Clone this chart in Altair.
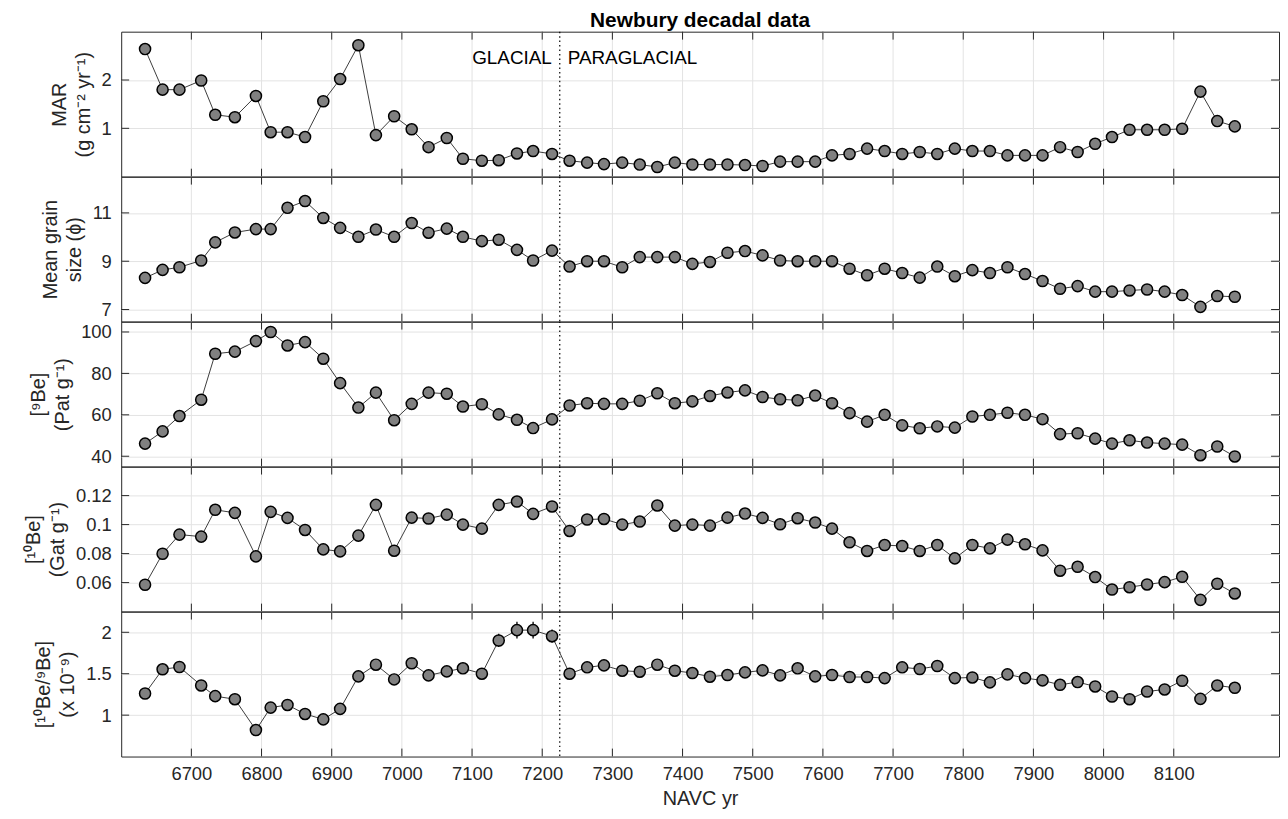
import altair as alt
import pandas as pd

# ---------------- data ----------------
years = [6634, 6659, 6683, 6714, 6734, 6762, 6792, 6813, 6837, 6862,
         6888, 6912, 6938, 6963, 6989, 7014, 7038, 7064, 7087, 7114,
         7138, 7164, 7187, 7214, 7239, 7264, 7288, 7314, 7339, 7364,
         7389, 7414, 7439, 7464, 7489, 7514, 7539, 7564, 7589, 7613,
         7638, 7663, 7688, 7713, 7738, 7763, 7788, 7813, 7838, 7863,
         7888, 7913, 7938, 7963, 7988, 8012, 8037, 8062, 8087, 8112,
         8138, 8162, 8187]

mar = [2.64, 1.80, 1.80, 1.99, 1.28, 1.23, 1.67, 0.92, 0.92, 0.82,
       1.56, 2.02, 2.72, 0.86, 1.25, 0.98, 0.61, 0.80, 0.37, 0.33,
       0.34, 0.48, 0.53, 0.47, 0.33, 0.29, 0.26, 0.29, 0.25, 0.20,
       0.29, 0.25, 0.25, 0.25, 0.24, 0.22, 0.31, 0.31, 0.31, 0.44,
       0.47, 0.58, 0.53, 0.47, 0.51, 0.47, 0.58, 0.53, 0.53, 0.44,
       0.44, 0.44, 0.61, 0.51, 0.68, 0.82, 0.97, 0.97, 0.97, 0.99,
       1.76, 1.15, 1.04]

grain = [8.31, 8.64, 8.75, 9.03, 9.78, 10.19, 10.33, 10.33, 11.21, 11.49,
         10.79, 10.38, 10.01, 10.31, 10.01, 10.58, 10.18, 10.35, 10.01, 9.83,
         9.89, 9.47, 9.03, 9.44, 8.78, 9.00, 9.00, 8.75, 9.17, 9.17,
         9.17, 8.89, 8.97, 9.35, 9.42, 9.24, 9.03, 9.00, 9.00, 9.00,
         8.69, 8.42, 8.69, 8.51, 8.32, 8.78, 8.38, 8.63, 8.51, 8.75,
         8.47, 8.18, 7.86, 7.97, 7.74, 7.74, 7.79, 7.83, 7.74, 7.60,
         7.11, 7.56, 7.53]

be9 = [46.1, 52.0, 59.4, 67.3, 89.5, 90.5, 95.6, 100.0, 93.5, 95.1,
       87.1, 75.3, 63.5, 70.7, 57.4, 65.3, 70.7, 70.2, 64.0, 65.1,
       60.2, 57.6, 53.6, 57.8, 64.5, 65.6, 65.3, 65.3, 66.8, 70.4,
       65.6, 66.5, 69.1, 70.8, 71.8, 68.6, 67.5, 67.0, 69.3, 65.6,
       60.8, 56.7, 60.0, 54.9, 53.5, 54.4, 53.8, 59.2, 60.0, 61.0,
       60.0, 57.9, 50.7, 51.1, 48.5, 46.1, 47.7, 46.6, 46.1, 45.6,
       40.5, 44.7, 39.9]

be10 = [0.0585, 0.0799, 0.0931, 0.0917, 0.1102, 0.1081, 0.0781, 0.1088, 0.1046, 0.0963,
        0.0829, 0.0815, 0.0924, 0.1136, 0.0820, 0.1048, 0.1042, 0.1069, 0.1000, 0.0972,
        0.1136, 0.1159, 0.1074, 0.1125, 0.0956, 0.1035, 0.1039, 0.1000, 0.1021, 0.1132,
        0.0993, 0.1000, 0.0993, 0.1048, 0.1076, 0.1046, 0.1002, 0.1044, 0.1014, 0.0972,
        0.0878, 0.0818, 0.0859, 0.0852, 0.0818, 0.0859, 0.0767, 0.0859, 0.0836, 0.0896,
        0.0864, 0.0822, 0.0682, 0.0709, 0.0638, 0.0552, 0.0568, 0.0587, 0.0603, 0.0640,
        0.0481, 0.0592, 0.0525]

ratio = [1.261, 1.553, 1.581, 1.358, 1.229, 1.192, 0.820, 1.091, 1.123, 1.014,
         0.949, 1.075, 1.468, 1.609, 1.431, 1.626, 1.480, 1.528, 1.565, 1.500,
         1.901, 2.026, 2.026, 1.953, 1.500, 1.577, 1.601, 1.536, 1.524, 1.609,
         1.536, 1.508, 1.464, 1.484, 1.516, 1.540, 1.480, 1.565, 1.468, 1.484,
         1.460, 1.460, 1.447, 1.577, 1.557, 1.593, 1.447, 1.455, 1.395, 1.492,
         1.447, 1.419, 1.366, 1.399, 1.346, 1.225, 1.192, 1.285, 1.310, 1.415,
         1.196, 1.358, 1.330]

ratio_err = [0.04, 0.04, 0.04, 0.04, 0.04, 0.04, 0.03, 0.04, 0.04, 0.04,
             0.04, 0.04, 0.04, 0.05, 0.04, 0.05, 0.04, 0.04, 0.05, 0.04,
             0.08, 0.10, 0.10, 0.08, 0.04, 0.04, 0.05, 0.04, 0.04, 0.05,
             0.04, 0.04, 0.04, 0.04, 0.04, 0.04, 0.04, 0.04, 0.04, 0.04,
             0.04, 0.04, 0.04, 0.04, 0.04, 0.05, 0.04, 0.04, 0.04, 0.04,
             0.04, 0.04, 0.04, 0.04, 0.04, 0.04, 0.04, 0.04, 0.04, 0.04,
             0.04, 0.04, 0.04]

x_ticks = [6700, 6800, 6900, 7000, 7100, 7200, 7300, 7400,
           7500, 7600, 7700, 7800, 7900, 8000, 8100]
x_domain = [6600, 8250]
boundary_year = 7225
period_labels = ["GLACIAL", "PARAGLACIAL"]

panels = [
    ("mar", ["MAR", "(g cm\u207b\u00b2 yr\u207b\u00b9)"], [0, 3], [1, 2]),
    ("grain", ["Mean grain", "size (\u03d5)"], [6.5, 12.5], [7, 9, 11]),
    ("be9", ["[\u2079Be]", "(Pat g\u207b\u00b9)"], [35, 105], [40, 60, 80, 100]),
    ("be10", ["[\u00b9\u2070Be]", "(Gat g\u207b\u00b9)"], [0.04, 0.14], [0.06, 0.08, 0.1, 0.12]),
    ("ratio", ["[\u00b9\u2070Be/\u2079Be]", "(x 10\u207b\u2079)"], [0.5, 2.25], [1, 1.5, 2]),
]

# ---------------- styling ----------------
FONT = "Liberation Sans"
AXC = "#262626"
GRID = "#e3e3e3"
W = 1166
H = 146
TL = 8

df = pd.DataFrame({
    "year": years, "mar": mar, "grain": grain, "be9": be9,
    "be10": be10, "ratio": ratio,
})
df["lo"] = [v - e for v, e in zip(ratio, ratio_err)]
df["hi"] = [v + e for v, e in zip(ratio, ratio_err)]

tick_df = pd.DataFrame({"year": x_ticks})
bound_df = pd.DataFrame({"year": [boundary_year]})

charts = []
for i, (field, title, dom, yt) in enumerate(panels):
    last = i == len(panels) - 1
    xscale = alt.Scale(domain=x_domain, nice=False, zero=False)
    yscale = alt.Scale(domain=dom, nice=False, zero=False)
    if last:
        xaxis = alt.Axis(values=x_ticks, format="d", grid=False, ticks=False,
                         domain=False, labelPadding=8, title="NAVC yr",
                         titlePadding=6, titleFontSize=20)
    else:
        xaxis = None
    X = alt.X("year:Q", scale=xscale, axis=xaxis)
    yaxis = alt.Axis(values=yt, format=".2~f", title=title, grid=True, ticks=False,
                     domain=False, labelPadding=10, titlePadding=8,
                     titleLineHeight=24)
    Y = alt.Y(f"{field}:Q", scale=yscale, axis=yaxis)

    layers = []
    layers.append(alt.Chart(tick_df).mark_rule(color=GRID, strokeWidth=1).encode(x=X))
    layers.append(alt.Chart(bound_df).mark_rule(color="black", strokeDash=[1.5, 3],
                                                strokeWidth=1.2).encode(x=X))
    base = alt.Chart(df)
    layers.append(base.mark_line(color="#3c3c3c", strokeWidth=1).encode(x=X, y=Y))
    if field == "ratio":
        layers.append(base.mark_rule(color="black", strokeWidth=1.3).encode(
            x=X, y=alt.Y("lo:Q", scale=yscale, axis=yaxis), y2="hi:Q"))
    layers.append(base.mark_circle(size=125, fill="#808080", stroke="black",
                                   strokeWidth=1.5, opacity=1).encode(x=X, y=Y))
    # inward ticks (box style)
    layers.append(alt.Chart(tick_df).mark_rule(color=AXC).encode(
        x=X, y=alt.value(0), y2=alt.value(TL)))
    layers.append(alt.Chart(tick_df).mark_rule(color=AXC).encode(
        x=X, y=alt.value(H - TL), y2=alt.value(H)))
    ytick_df = pd.DataFrame({field: yt})
    layers.append(alt.Chart(ytick_df).mark_rule(color=AXC).encode(
        y=Y, x=alt.value(0), x2=alt.value(TL)))
    layers.append(alt.Chart(ytick_df).mark_rule(color=AXC).encode(
        y=Y, x=alt.value(W - TL), x2=alt.value(W)))

    if i == 0:
        ann_left = pd.DataFrame({"year": [boundary_year], "label": [period_labels[0]]})
        ann_right = pd.DataFrame({"year": [boundary_year], "label": [period_labels[1]]})
        layers.append(alt.Chart(ann_left).mark_text(
            align="right", baseline="middle", dx=-8, fontSize=19, font=FONT,
            color="black").encode(x=X, y=alt.value(27), text="label:N"))
        layers.append(alt.Chart(ann_right).mark_text(
            align="left", baseline="middle", dx=8, fontSize=19, font=FONT,
            color="black").encode(x=X, y=alt.value(27), text="label:N"))

    ch = alt.layer(*layers).properties(width=W, height=H)
    if i == 0:
        ch = ch.properties(title=alt.TitleParams(
            "Newbury decadal data", fontSize=21, fontWeight="bold", font=FONT,
            color="black", anchor="middle", frame="group", offset=0))
    charts.append(ch)

chart = alt.vconcat(*charts, spacing=0, bounds="flush").properties(
    padding={"left": 15, "top": -2, "right": 0, "bottom": 0}
).configure_view(
    stroke=AXC, strokeWidth=1
).configure_axis(
    labelFont=FONT, titleFont=FONT, labelFontSize=18.5, titleFontSize=20,
    labelColor=AXC, titleColor=AXC, gridColor=GRID, titleFontWeight="normal"
)

chart.save("out.html", embed_options={"renderer": "svg", "actions": False})
